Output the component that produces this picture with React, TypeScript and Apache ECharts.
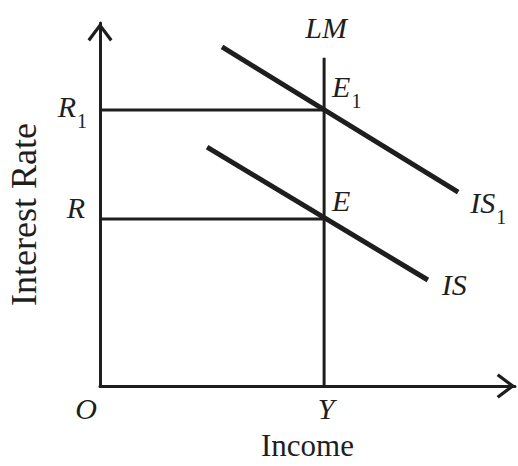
import React, { useEffect, useRef } from "react";
import * as echarts from "echarts";

// Data (units on a 0–100 scale for income and interest rate)
const incomeEq = 54; // Y
const rateR1 = 76; // R1
const rateR = 46; // R
const lmTop = 90.4;
const is1Points: [number, number][] = [
  [29.4, 93.4],
  [86.3, 53.4],
];
const isPoints: [number, number][] = [
  [25.8, 65.8],
  [79.0, 29.2],
];
const axisNames = { x: "Income", y: "Interest Rate" };

const INK = "#1e1e1e";
const SERIF = "'Liberation Serif', 'DejaVu Serif', serif";

const rich = {
  a: {
    fontFamily: SERIF,
    fontStyle: "italic",
    fontSize: 30,
    lineHeight: 30,
    color: INK,
    verticalAlign: "top",
  },
  s: {
    fontFamily: SERIF,
    fontStyle: "normal",
    fontSize: 20,
    height: 20,
    color: INK,
    verticalAlign: "bottom",
    padding: [20, 0, 0, 1],
  },
};

function lbl(text: string, position: string, offset: [number, number], distance = 5) {
  return {
    show: true,
    position,
    distance,
    offset,
    color: INK,
    opacity: 1,
    formatter: text,
    rich,
  };
}

export default function App() {
  const ref = useRef<HTMLDivElement>(null);
  useEffect(() => {
    document.body.style.margin = "0";
    if (!ref.current) return;
    const chart = echarts.init(ref.current, null, { renderer: "svg" });
    const chevron = "path://M12,0 L24,16 L21.6,18 L12,5.2 L2.4,18 L0,16 Z";
    const lineBase = (width: number) => ({
      type: "line" as const,
      symbol: "circle",
      showSymbol: true,
      symbolSize: 0,
      itemStyle: { color: INK },
      silent: true,
      lineStyle: { color: INK, width },
      z: 3,
    });
    chart.setOption({
      animation: false,
      backgroundColor: "#ffffff",
      grid: {
        left: 100,
        right: 3,
        top: 23,
        bottom: 80,
        containLabel: false,
        outerBoundsMode: "none",
      },
      xAxis: {
        type: "value",
        min: 0,
        max: 100,
        name: axisNames.x,
        nameLocation: "middle",
        nameGap: 44,
        nameTextStyle: { fontFamily: SERIF, fontSize: 31, color: INK },
        axisLine: {
          show: true,
          lineStyle: { color: INK, width: 3 },
          symbol: ["none", chevron],
          symbolSize: [25, 19],
          symbolOffset: [0, -9],
        },
        axisTick: { show: false },
        axisLabel: { show: false },
        splitLine: { show: false },
      },
      yAxis: {
        type: "value",
        min: 0,
        max: 100,
        name: axisNames.y,
        nameLocation: "middle",
        nameGap: 58,
        nameTextStyle: {
          fontFamily: SERIF,
          fontSize: 36,
          color: INK,
          padding: [0, 20, 0, 0],
        },
        axisLine: {
          show: true,
          lineStyle: { color: INK, width: 3 },
          symbol: ["none", chevron],
          symbolSize: [25, 19],
          symbolOffset: [0, -9],
        },
        axisTick: { show: false },
        axisLabel: { show: false },
        splitLine: { show: false },
      },
      series: [
        {
          ...lineBase(3),
          name: "R1 guide",
          data: [
            { value: [0, rateR1], label: lbl("{a|R}{s|1}", "left", [0, 1], 13) },
            { value: [incomeEq, rateR1], label: lbl("{a|E}{s|1}", "right", [0, -19], 8) },
          ],
        },
        {
          ...lineBase(3),
          name: "R guide",
          data: [
            { value: [0, rateR], label: lbl("{a|R}", "left", [0, -12], 15) },
            { value: [incomeEq, rateR], label: lbl("{a|E}", "right", [0, -19], 8) },
          ],
        },
        {
          ...lineBase(3),
          name: "LM",
          data: [
            { value: [incomeEq, 0], label: lbl("{a|Y}", "bottom", [2, 7], 0) },
            { value: [incomeEq, lmTop], label: lbl("{a|LM}", "top", [2, -15], 0) },
          ],
        },
        {
          ...lineBase(5),
          name: "IS1",
          data: [
            { value: is1Points[0] },
            { value: is1Points[1], label: lbl("{a|IS}{s|1}", "right", [0, 15], 12) },
          ],
        },
        {
          ...lineBase(5),
          name: "IS",
          data: [
            { value: isPoints[0] },
            { value: isPoints[1], label: lbl("{a|IS}", "right", [0, 4], 14) },
          ],
        },
        {
          type: "scatter",
          name: "origin",
          symbolSize: 0,
          itemStyle: { color: INK },
          silent: true,
          data: [{ value: [0, 0], label: lbl("{a|O}", "bottom", [-14, 7], 0) }],
        },
      ],
    });
    return () => chart.dispose();
  }, []);
  return <div ref={ref} style={{ width: 518, height: 466 }} />;
}
